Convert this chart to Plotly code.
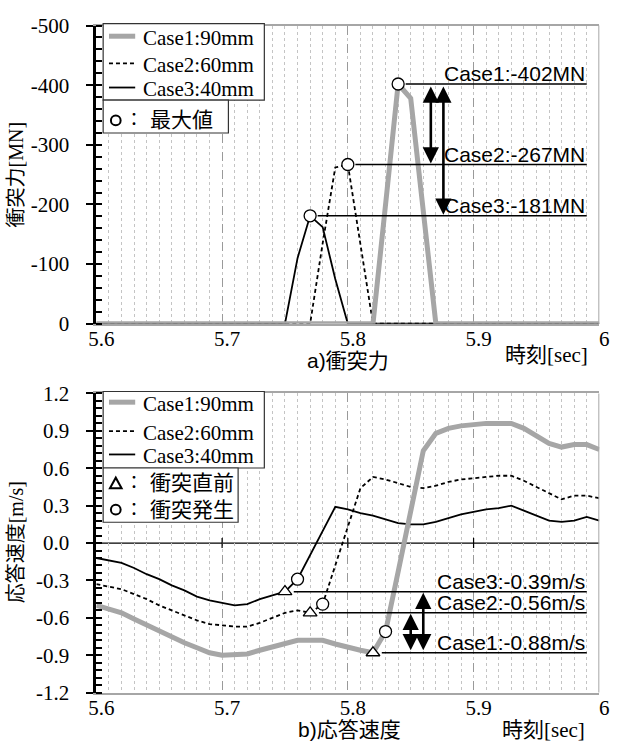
import plotly.graph_objects as go

# ---------------- data ----------------
time_s = [5.60, 5.61, 5.62, 5.63, 5.64, 5.65, 5.66, 5.67, 5.68, 5.69,
          5.70, 5.71, 5.72, 5.73, 5.74, 5.75, 5.76, 5.77, 5.78, 5.79,
          5.80, 5.81, 5.82, 5.83, 5.84, 5.85, 5.86, 5.87, 5.88, 5.89,
          5.90, 5.91, 5.92, 5.93, 5.94, 5.95, 5.96, 5.97, 5.98, 5.99, 6.00]

case_names = ["Case1:90mm", "Case2:60mm", "Case3:40mm"]

# impact force [MN]
force_case1 = [0, 0, 0, 0, 0, 0, 0, 0, 0, 0,
               0, 0, 0, 0, 0, 0, 0, 0, 0, 0,
               0, 0, 0, -200, -402, -378, -190, 0, 0, 0,
               0, 0, 0, 0, 0, 0, 0, 0, 0, 0, 0]
force_case2 = [0, 0, 0, 0, 0, 0, 0, 0, 0, 0,
               0, 0, 0, 0, 0, 0, 0, 0, -135, -262,
               -267, -134, 0, 0, 0, 0, 0, 0, 0, 0,
               0, 0, 0, 0, 0, 0, 0, 0, 0, 0, 0]
force_case3 = [0, 0, 0, 0, 0, 0, 0, 0, 0, 0,
               0, 0, 0, 0, 0, 0, -110, -181, -162, -75,
               0, 0, 0, 0, 0, 0, 0, 0, 0, 0,
               0, 0, 0, 0, 0, 0, 0, 0, 0, 0, 0]

# response velocity [m/s]
vel_case1 = [-0.50, -0.53, -0.56, -0.61, -0.66, -0.70, -0.75, -0.80, -0.84, -0.88,
             -0.90, -0.90, -0.89, -0.86, -0.83, -0.80, -0.78, -0.78, -0.78, -0.81,
             -0.84, -0.86, -0.88, -0.71, -0.23, 0.26, 0.74, 0.88, 0.92, 0.94,
             0.95, 0.96, 0.96, 0.96, 0.92, 0.86, 0.80, 0.77, 0.79, 0.79, 0.75]
vel_case2 = [-0.33, -0.35, -0.37, -0.41, -0.45, -0.50, -0.54, -0.58, -0.62, -0.65,
             -0.66, -0.67, -0.67, -0.64, -0.60, -0.56, -0.54, -0.56, -0.49, -0.18,
             0.13, 0.44, 0.53, 0.51, 0.48, 0.45, 0.44, 0.46, 0.49, 0.51,
             0.52, 0.53, 0.54, 0.54, 0.50, 0.45, 0.40, 0.35, 0.38, 0.38, 0.36]
vel_case3 = [-0.12, -0.14, -0.16, -0.20, -0.25, -0.29, -0.34, -0.38, -0.43, -0.46,
             -0.48, -0.50, -0.49, -0.45, -0.42, -0.39, -0.29, -0.10, 0.10, 0.29,
             0.27, 0.24, 0.22, 0.19, 0.16, 0.15, 0.15, 0.17, 0.20, 0.23,
             0.25, 0.27, 0.28, 0.30, 0.26, 0.22, 0.18, 0.17, 0.18, 0.21, 0.18]

# sample index of: peak force, last step before impact, first impact step
peak_idx = [24, 20, 17]
before_idx = [22, 17, 15]
impact_idx = [23, 18, 16]

force_ticks = [-500, -400, -300, -200, -100, 0]
vel_ticks = [1.2, 0.9, 0.6, 0.3, 0.0, -0.3, -0.6, -0.9, -1.2]
time_ticks = [5.6, 5.7, 5.8, 5.9, 6.0]
time_ticktext = ["5.6", "5.7", "5.8", "5.9", "6"]

# ---------------- styling ----------------
W, H = 620, 754
GRAY = "#a6a6a6"
SERIF = "Liberation Serif, Noto Sans CJK JP"
SANS = "Liberation Sans, Noto Sans CJK JP"
FS = 21

def px(x):
    return x / W

def py(y):
    return 1 - y / H

forces = [force_case1, force_case2, force_case3]
vels = [vel_case1, vel_case2, vel_case3]
line_styles = [dict(color=GRAY, width=5),
               dict(color="black", width=1.8, dash="4px,3px"),
               dict(color="black", width=1.8)]

fig = go.Figure()

# draw order: Case3, Case2, then Case1 on top
for k in [2, 1, 0]:
    fig.add_trace(go.Scatter(x=time_s, y=forces[k], mode="lines", line=line_styles[k],
                             name=case_names[k], showlegend=False, xaxis="x", yaxis="y",
                             hoverinfo="skip"))
    fig.add_trace(go.Scatter(x=time_s, y=vels[k], mode="lines", line=line_styles[k],
                             name=case_names[k], showlegend=False, xaxis="x2", yaxis="y2",
                             hoverinfo="skip"))

marker_circle = dict(symbol="circle", size=12, color="white", line=dict(color="black", width=1.3))
marker_tri = dict(symbol="triangle-up", size=12, color="white", line=dict(color="black", width=1.3))

peak_x = [time_s[peak_idx[k]] for k in range(3)]
peak_y = [forces[k][peak_idx[k]] for k in range(3)]
fig.add_trace(go.Scatter(x=peak_x, y=peak_y, mode="markers", marker=marker_circle,
                         showlegend=False, xaxis="x", yaxis="y", hoverinfo="skip"))

pre_x = [time_s[before_idx[k]] for k in range(3)]
pre_y = [vels[k][before_idx[k]] for k in range(3)]
imp_x = [time_s[impact_idx[k]] for k in range(3)]
imp_y = [vels[k][impact_idx[k]] for k in range(3)]
fig.add_trace(go.Scatter(x=pre_x, y=pre_y, mode="markers", marker=marker_tri,
                         showlegend=False, xaxis="x2", yaxis="y2", hoverinfo="skip"))
fig.add_trace(go.Scatter(x=imp_x, y=imp_y, mode="markers", marker=marker_circle,
                         showlegend=False, xaxis="x2", yaxis="y2", hoverinfo="skip"))

shapes = []
annotations = []

# value leader lines and labels
LINE_END = 5.99
for k in range(3):
    shapes.append(dict(type="line", xref="x", yref="y", x0=peak_x[k] + 0.006, x1=LINE_END,
                       y0=peak_y[k], y1=peak_y[k], line=dict(color="black", width=1.5)))
    annotations.append(dict(xref="x", yref="y", x=LINE_END, y=peak_y[k], xanchor="right",
                            yanchor="bottom", yshift=-3, showarrow=False,
                            text=f"Case{k + 1}:{peak_y[k]:.0f}MN",
                            font=dict(family=SANS, size=FS, color="black")))
    shapes.append(dict(type="line", xref="x2", yref="y2", x0=pre_x[k] + 0.007, x1=LINE_END,
                       y0=pre_y[k], y1=pre_y[k], line=dict(color="black", width=1.5)))
    annotations.append(dict(xref="x2", yref="y2", x=LINE_END, y=pre_y[k], xanchor="right",
                            yanchor="bottom", yshift=-3, showarrow=False,
                            text=f"Case{k + 1}:{pre_y[k]:.2f}m/s",
                            font=dict(family=SANS, size=FS, color="black")))

# double-headed difference arrows
def double_arrow(xr, yr, x, y0, y1):
    annotations.append(dict(xref=xr, yref=yr, axref=xr, ayref=yr, x=x, y=y1, ax=x, ay=y0,
                            text="", showarrow=True, arrowhead=2, arrowside="end+start",
                            arrowsize=1.25, arrowwidth=2.6, arrowcolor="black",
                            standoff=1, startstandoff=1))

double_arrow("x", "y", 5.866, peak_y[0], peak_y[1])
double_arrow("x", "y", 5.876, peak_y[0], peak_y[2])
double_arrow("x2", "y2", 5.850, pre_y[0], pre_y[1])
double_arrow("x2", "y2", 5.860, pre_y[0], pre_y[2])

# right-hand frame lines
for xr, yr in [("x", "y domain"), ("x2", "y2 domain")]:
    shapes.append(dict(type="line", xref=xr, yref=yr, x0=6.0, x1=6.0, y0=0, y1=1,
                       line=dict(color=GRAY, width=2)))

# zero line of the velocity chart with its tick marks
shapes.append(dict(type="line", xref="x2", yref="y2", x0=5.6, x1=6.0, y0=0, y1=0,
                   line=dict(color="black", width=1.2), layer="below"))
for xv in time_ticks[1:-1]:
    shapes.append(dict(type="line", xref="x2", yref="y2", x0=xv, x1=xv, y0=-0.04, y1=0.04,
                       line=dict(color="black", width=1.2)))

# ---------------- legends ----------------
def legend_block(top, mid, bot, line_ys, mark_rows, box2_right):
    shapes.append(dict(type="rect", xref="paper", yref="paper", x0=px(98), x1=px(264),
                       y0=py(mid), y1=py(top), fillcolor="white",
                       line=dict(color="#333", width=1.2), layer="above"))
    shapes.append(dict(type="rect", xref="paper", yref="paper", x0=px(98), x1=px(box2_right),
                       y0=py(bot), y1=py(mid), fillcolor="white",
                       line=dict(color="#333", width=1.2), layer="above"))
    for k in range(3):
        st = line_styles[k]
        shapes.append(dict(type="line", xref="paper", yref="paper", x0=px(104), x1=px(131),
                           y0=py(line_ys[k]), y1=py(line_ys[k]),
                           line=dict(color=st["color"], width=st["width"],
                                     dash=st.get("dash", "solid")), layer="above"))
        annotations.append(dict(xref="paper", yref="paper", x=px(137), y=py(line_ys[k] + 2),
                                xanchor="left", yanchor="middle", showarrow=False,
                                text=case_names[k],
                                font=dict(family=SERIF, size=FS, color="black")))
    for sym, yy, label in mark_rows:
        cx = 111
        if sym == "circle":
            shapes.append(dict(type="circle", xref="paper", yref="paper",
                               x0=px(cx - 5), x1=px(cx + 5), y0=py(yy + 5), y1=py(yy - 5),
                               line=dict(color="black", width=2), fillcolor="white",
                               layer="above"))
        else:
            shapes.append(dict(type="path", xref="paper", yref="paper",
                               path=(f"M {px(cx - 6)} {py(yy + 5)} L {px(cx + 6)} {py(yy + 5)} "
                                     f"L {px(cx)} {py(yy - 6)} Z"),
                               line=dict(color="black", width=2), fillcolor="white",
                               layer="above"))
        annotations.append(dict(xref="paper", yref="paper", x=px(118), y=py(yy),
                                xanchor="left", yanchor="middle", showarrow=False,
                                text="：", font=dict(family=SANS, size=FS - 3, color="black")))
        annotations.append(dict(xref="paper", yref="paper", x=px(144), y=py(yy),
                                xanchor="left", yanchor="middle", showarrow=False,
                                text=label, font=dict(family=SERIF, size=FS, color="black")))

legend_block(12, 91, 125, [25, 53, 78], [("circle", 112, "最大値")], 227)
legend_block(392, 471, 527, [403, 433, 457],
             [("triangle", 487, "衝突直前"), ("circle", 514, "衝突発生")], 237)

# ---------------- axis titles ----------------
def text(x, y, s, family, anchor="center", angle=0, size=FS):
    annotations.append(dict(xref="paper", yref="paper", x=px(x), y=py(y), xanchor=anchor,
                            yanchor="middle", showarrow=False, text=s, textangle=angle,
                            font=dict(family=family, size=size, color="black")))

text(8, 168, "衝突力[MN]", SERIF, angle=-90, size=20)
text(8, 548, "応答速度[m/s]", SERIF, angle=-90, size=20)
text(350, 360, "a)衝突力", SANS)
text(352, 741, "b)応答速度", SANS)
text(599, 354, "時刻[sec]", SERIF, anchor="right")
text(596, 742, "時刻[sec]", SERIF, anchor="right")

# ---------------- axes ----------------
xdom = [px(91), px(609)]
xaxis_common = dict(
    range=[5.6, 6.0], domain=xdom, tickvals=time_ticks, ticktext=time_ticktext,
    tickfont=dict(family=SERIF, size=FS, color="black"), ticks="", ticklabelshift=5,
    ticklabelstandoff=-5,
    showline=True, linecolor=GRAY, linewidth=2, mirror=True,
    showgrid=True, gridcolor="#9a9a9a", griddash="dash", gridwidth=1,
    minor=dict(dtick=0.01, tick0=5.6, showgrid=True, gridcolor="#c4c4c4",
               griddash="dot", gridwidth=1),
    zeroline=False, fixedrange=True,
)
yaxis_common = dict(
    tickfont=dict(family=SERIF, size=FS, color="black"), ticks="outside", ticklen=7,
    tickwidth=2, tickcolor="black", showline=True, linecolor="black", linewidth=3,
    showgrid=False, zeroline=False, fixedrange=True, ticklabelstandoff=13,
)

fig.update_layout(
    width=W, height=H, margin=dict(l=0, r=0, t=0, b=0),
    paper_bgcolor="white", plot_bgcolor="white", showlegend=False,
    xaxis=dict(**xaxis_common, anchor="y"),
    yaxis=dict(**yaxis_common, domain=[py(322), py(14)], range=[0, -500], anchor="x",
               tickvals=force_ticks, ticktext=[str(v) for v in force_ticks],
               minor=dict(dtick=20, tick0=0, ticks="inside", ticklen=6, tickwidth=2,
                          tickcolor="black")),
    xaxis2=dict(**xaxis_common, anchor="y2"),
    yaxis2=dict(**yaxis_common, domain=[py(703), py(394)], range=[-1.2, 1.2], anchor="x2",
                tickvals=vel_ticks, ticktext=[f"{v:.1f}" for v in vel_ticks],
                minor=dict(dtick=0.06, tick0=0, ticks="inside", ticklen=6, tickwidth=2,
                           tickcolor="black")),
    shapes=shapes, annotations=annotations,
)

fig.write_html("out.html")
